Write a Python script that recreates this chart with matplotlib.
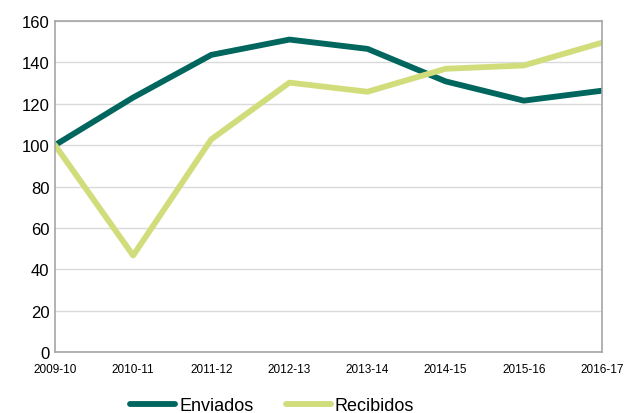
import matplotlib.pyplot as plt

plt.rcParams['font.family'] = ['Liberation Sans', 'DejaVu Sans']

years = ['2009-10', '2010-11', '2011-12', '2012-13', '2013-14', '2014-15', '2015-16', '2016-17']
enviados = [100, 123, 143.6, 151, 146.5, 130.8, 121.5, 126.3]
recibidos = [100, 46.7, 102.8, 130.2, 125.8, 136.9, 138.5, 149.5]

fig = plt.figure(figsize=(6.33, 4.14), dpi=100)
ax = fig.add_axes([0.0869, 0.147, 0.864, 0.800])

x = range(len(years))
ax.plot(x, enviados, color='#00665E', lw=4.2, label='Enviados', solid_capstyle='round')
ax.plot(x, recibidos, color='#D1DD7B', lw=4.2, label='Recibidos', solid_capstyle='round')

ax.set_xlim(0, len(years) - 1)
ax.set_ylim(0, 160)
ax.set_yticks(range(0, 161, 20))
ax.set_xticks(list(x))
ax.set_xticklabels(years, fontsize=8.5)
ax.tick_params(axis='y', labelsize=12, length=0, pad=4)
ax.tick_params(axis='x', length=0, pad=8)
ax.grid(axis='y', color='#DADADA', lw=1)
ax.set_axisbelow(True)
for s in ax.spines.values():
    s.set_color('#A6A6A6')
    s.set_linewidth(1.2)

ax.legend(loc='upper center', bbox_to_anchor=(0.397, -0.115), ncol=2, frameon=False,
          fontsize=13, handlelength=2.5, handletextpad=0.2, columnspacing=1.8,
          borderaxespad=0)

fig.savefig('out.png', dpi=100)
